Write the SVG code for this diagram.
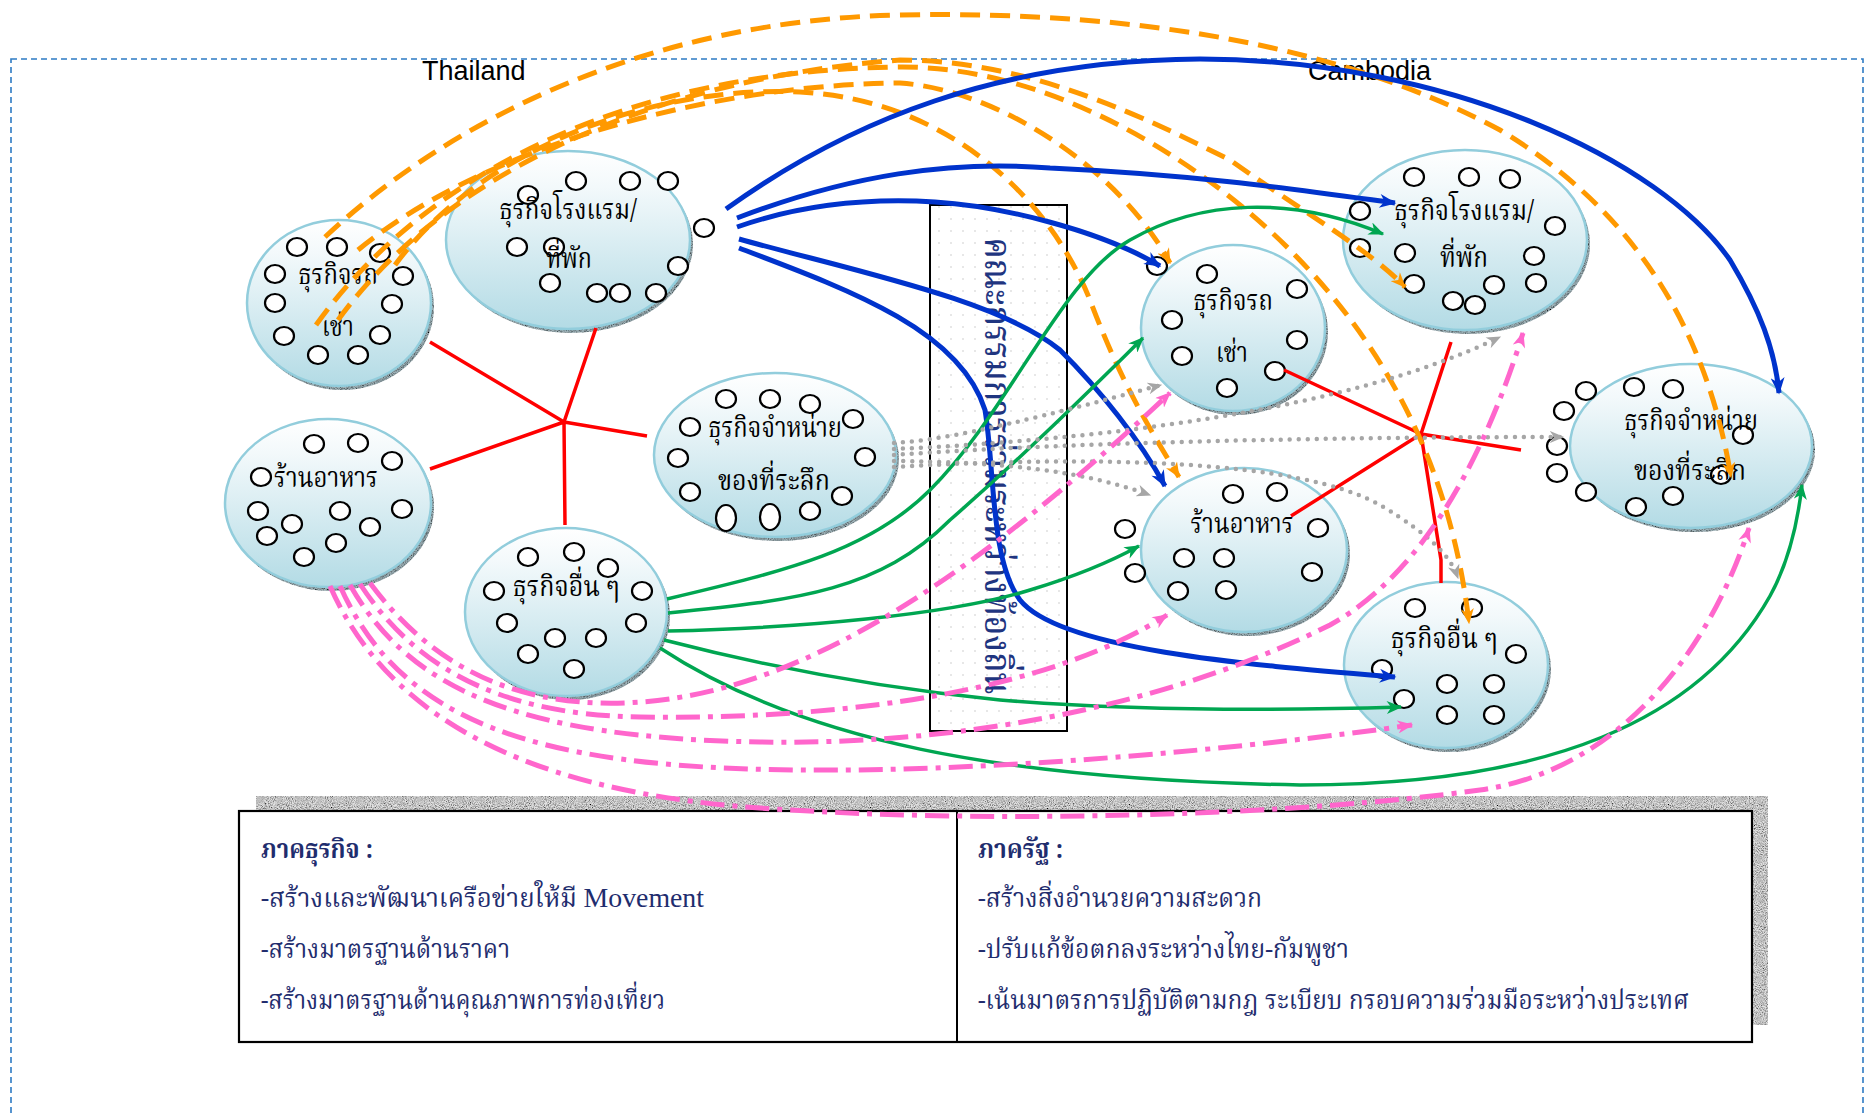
<svg xmlns="http://www.w3.org/2000/svg" width="1870" height="1115" viewBox="0 0 1870 1115">
<style>
  .th { font-family: "Noto Serif Thai", "Noto Sans Thai", "Noto Sans", "DejaVu Sans", sans-serif; }
  .nt { font-size: 28px; fill: #000; text-anchor: middle; }
  .bt { font-size: 26px; fill: #1f2d6e; }
  .hd { font-weight: bold; }
  .lat { font-family: "Liberation Sans", Arial, sans-serif; font-size: 27px; fill: #000; }
  .node { fill: url(#nodeFill); stroke: #92cddc; stroke-width: 2.5; }
  .shade { fill: #9fb3b9; filter: url(#grain); }
  .d { fill: #fff; stroke: #000; stroke-width: 2.2; }
  .red { stroke: #ff0000; stroke-width: 3.5; fill: none; }
  .blue { stroke: #0033cc; stroke-width: 5; fill: none; marker-end: url(#ah-blue); }
  .green { stroke: #00a651; stroke-width: 3.5; fill: none; marker-end: url(#ah-green); }
  .orange { stroke: #ff9900; stroke-width: 5; fill: none; stroke-dasharray: 20 10; marker-end: url(#ah-orange); }
  .gray { stroke: #a6a6a6; stroke-width: 4.5; fill: none; stroke-dasharray: 0 9; stroke-linecap: round; marker-end: url(#ah-gray); }
  .pink { stroke: #ff66cc; stroke-width: 5; fill: none; stroke-dasharray: 24 8 5 8; marker-end: url(#ah-pink); }
</style>
<defs>
  <linearGradient id="nodeFill" x1="0" y1="0" x2="0" y2="1">
    <stop offset="0" stop-color="#ffffff"/>
    <stop offset="0.2" stop-color="#f3f9fb"/>
    <stop offset="1" stop-color="#b3dbe5"/>
  </linearGradient>
  <!-- speckled texture for drop shadows -->
  <filter id="grain" x="-5%" y="-5%" width="110%" height="110%">
    <feTurbulence type="fractalNoise" baseFrequency="0.95" numOctaves="2" seed="4" result="noise"/>
    <feColorMatrix in="noise" type="saturate" values="0" result="gn"/>
    <feComponentTransfer in="gn" result="hc">
      <feFuncR type="linear" slope="2.4" intercept="-0.5"/>
      <feFuncG type="linear" slope="2.4" intercept="-0.5"/>
      <feFuncB type="linear" slope="2.4" intercept="-0.5"/>
      <feFuncA type="linear" slope="0" intercept="1"/>
    </feComponentTransfer>
    <feComposite in="hc" in2="SourceAlpha" operator="in" result="tex"/>
    <feBlend in="tex" in2="SourceGraphic" mode="multiply"/>
  </filter>
  <pattern id="faint" width="12" height="12" patternUnits="userSpaceOnUse">
    <circle cx="3" cy="3" r="0.9" fill="#dcdcdc"/>
  </pattern>
  <marker id="ah-blue" viewBox="0 0 12 10" refX="11" refY="5" markerWidth="18" markerHeight="14" markerUnits="userSpaceOnUse" orient="auto"><path d="M0,0 L12,5 L0,10 L3.5,5 z" fill="#0033cc"/></marker>
  <marker id="ah-green" viewBox="0 0 12 10" refX="11" refY="5" markerWidth="16" markerHeight="13" markerUnits="userSpaceOnUse" orient="auto"><path d="M0,0 L12,5 L0,10 L3.5,5 z" fill="#00a651"/></marker>
  <marker id="ah-orange" viewBox="0 0 12 10" refX="11" refY="5" markerWidth="16" markerHeight="13" markerUnits="userSpaceOnUse" orient="auto"><path d="M0,0 L12,5 L0,10 L3.5,5 z" fill="#ff9900"/></marker>
  <marker id="ah-gray" viewBox="0 0 12 10" refX="11" refY="5" markerWidth="15" markerHeight="12" markerUnits="userSpaceOnUse" orient="auto"><path d="M0,0 L12,5 L0,10 L3.5,5 z" fill="#a6a6a6"/></marker>
  <marker id="ah-pink" viewBox="0 0 12 10" refX="11" refY="5" markerWidth="16" markerHeight="13" markerUnits="userSpaceOnUse" orient="auto"><path d="M0,0 L12,5 L0,10 L3.5,5 z" fill="#ff66cc"/></marker>
</defs>

<rect width="1870" height="1115" fill="#ffffff"/>

<!-- dashed frame holding both countries -->
<rect x="11" y="59" width="1852" height="1100" fill="none" stroke="#2e7bc4" stroke-width="1.6" stroke-dasharray="6 4"/>
<text class="lat" x="422" y="80">Thailand</text>
<text class="lat" x="1308" y="80">Cambodia</text>

<!-- policy box -->
<g id="policy-box">
  <rect x="256" y="796" width="1512" height="229" fill="#e2e2e2" filter="url(#grain)"/>
  <rect x="239" y="811" width="1513" height="231" fill="#ffffff" stroke="#000" stroke-width="2.2"/>
  <line x1="957" y1="811" x2="957" y2="1042" stroke="#000" stroke-width="2"/>
  <text class="th bt hd" x="261" y="858" textLength="112" lengthAdjust="spacingAndGlyphs">ภาคธุรกิจ :</text>
  <text class="th bt" x="261" y="907" textLength="443" lengthAdjust="spacingAndGlyphs">-สร้างและพัฒนาเครือข่ายให้มี <tspan font-family="Liberation Serif, serif" font-size="28">Movement</tspan></text>
  <text class="th bt" x="261" y="958" textLength="249" lengthAdjust="spacingAndGlyphs">-สร้างมาตรฐานด้านราคา</text>
  <text class="th bt" x="261" y="1009" textLength="404" lengthAdjust="spacingAndGlyphs">-สร้างมาตรฐานด้านคุณภาพการท่องเที่ยว</text>
  <text class="th bt hd" x="978" y="858" textLength="85" lengthAdjust="spacingAndGlyphs">ภาครัฐ :</text>
  <text class="th bt" x="978" y="907" textLength="284" lengthAdjust="spacingAndGlyphs">-สร้างสิ่งอำนวยความสะดวก</text>
  <text class="th bt" x="978" y="958" textLength="371" lengthAdjust="spacingAndGlyphs">-ปรับแก้ข้อตกลงระหว่างไทย-กัมพูชา</text>
  <text class="th bt" x="978" y="1009" textLength="711" lengthAdjust="spacingAndGlyphs">-เน้นมาตรการปฏิบัติตามกฎ ระเบียบ กรอบความร่วมมือระหว่างประเทศ</text>
</g>

<!-- joint committee column -->
<g id="joint-committee">
  <rect x="930" y="205" width="137" height="526" fill="#ffffff" stroke="#000" stroke-width="2"/>
  <rect x="931" y="206" width="135" height="524" fill="url(#faint)"/>
  <text class="th" transform="translate(985,466) rotate(90)" text-anchor="middle" font-size="38" font-weight="500" fill="#1f3580" textLength="457" lengthAdjust="spacingAndGlyphs">คณะกรรมการร่วมระหว่างท้องถิ่น</text>
</g>

<!-- Thailand side -->
<g id="th-car-rental">
  <ellipse class="shade" cx="342" cy="307" rx="92" ry="83"/>
  <ellipse class="node" cx="339" cy="303" rx="92" ry="83"/>
  <ellipse class="d" cx="297" cy="247" rx="10" ry="9"/><ellipse class="d" cx="337" cy="247" rx="10" ry="9"/>
  <ellipse class="d" cx="380" cy="253" rx="10" ry="9"/><ellipse class="d" cx="275" cy="274" rx="10" ry="9"/>
  <ellipse class="d" cx="403" cy="276" rx="10" ry="9"/><ellipse class="d" cx="275" cy="303" rx="10" ry="9"/>
  <ellipse class="d" cx="392" cy="304" rx="10" ry="9"/><ellipse class="d" cx="284" cy="336" rx="10" ry="9"/>
  <ellipse class="d" cx="380" cy="335" rx="10" ry="9"/><ellipse class="d" cx="318" cy="355" rx="10" ry="9"/>
  <ellipse class="d" cx="358" cy="355" rx="10" ry="9"/>
  <text class="th nt" x="338" y="284" textLength="80" lengthAdjust="spacingAndGlyphs">ธุรกิจรถ</text>
  <text class="th nt" x="338" y="336" textLength="32" lengthAdjust="spacingAndGlyphs">เช่า</text>
</g>

<g id="th-hotel">
  <ellipse class="shade" cx="571" cy="244" rx="122" ry="89"/>
  <ellipse class="node" cx="568" cy="240" rx="122" ry="89"/>
  <ellipse class="d" cx="528" cy="195" rx="10" ry="9"/><ellipse class="d" cx="576" cy="181" rx="10" ry="9"/>
  <ellipse class="d" cx="630" cy="181" rx="10" ry="9"/><ellipse class="d" cx="668" cy="181" rx="10" ry="9"/>
  <ellipse class="d" cx="704" cy="228" rx="10" ry="9"/><ellipse class="d" cx="517" cy="247" rx="10" ry="9"/>
  <ellipse class="d" cx="554" cy="247" rx="10" ry="9"/><ellipse class="d" cx="678" cy="266" rx="10" ry="9"/>
  <ellipse class="d" cx="550" cy="283" rx="10" ry="9"/><ellipse class="d" cx="597" cy="293" rx="10" ry="9"/>
  <ellipse class="d" cx="620" cy="293" rx="10" ry="9"/><ellipse class="d" cx="656" cy="293" rx="10" ry="9"/>
  <text class="th nt" x="568" y="219" textLength="138" lengthAdjust="spacingAndGlyphs">ธุรกิจโรงแรม/</text>
  <text class="th nt" x="569" y="268" textLength="46" lengthAdjust="spacingAndGlyphs">ที่พัก</text>
</g>

<g id="th-restaurant">
  <ellipse class="shade" cx="331" cy="507" rx="103" ry="84"/>
  <ellipse class="node" cx="328" cy="503" rx="103" ry="84"/>
  <ellipse class="d" cx="314" cy="444" rx="10" ry="9"/><ellipse class="d" cx="358" cy="443" rx="10" ry="9"/>
  <ellipse class="d" cx="392" cy="461" rx="10" ry="9"/><ellipse class="d" cx="261" cy="477" rx="10" ry="9"/>
  <ellipse class="d" cx="258" cy="511" rx="10" ry="9"/><ellipse class="d" cx="292" cy="524" rx="10" ry="9"/>
  <ellipse class="d" cx="340" cy="511" rx="10" ry="9"/><ellipse class="d" cx="402" cy="509" rx="10" ry="9"/>
  <ellipse class="d" cx="370" cy="527" rx="10" ry="9"/><ellipse class="d" cx="267" cy="536" rx="10" ry="9"/>
  <ellipse class="d" cx="336" cy="543" rx="10" ry="9"/><ellipse class="d" cx="304" cy="557" rx="10" ry="9"/>
  <text class="th nt" x="326" y="487" textLength="104" lengthAdjust="spacingAndGlyphs">ร้านอาหาร</text>
</g>

<g id="th-souvenir">
  <ellipse class="shade" cx="778" cy="459" rx="121" ry="82"/>
  <ellipse class="node" cx="775" cy="455" rx="121" ry="82"/>
  <ellipse class="d" cx="726" cy="399" rx="10" ry="9"/><ellipse class="d" cx="770" cy="399" rx="10" ry="9"/>
  <ellipse class="d" cx="810" cy="404" rx="10" ry="9"/><ellipse class="d" cx="853" cy="419" rx="10" ry="9"/>
  <ellipse class="d" cx="690" cy="427" rx="10" ry="9"/><ellipse class="d" cx="678" cy="458" rx="10" ry="9"/>
  <ellipse class="d" cx="865" cy="457" rx="10" ry="9"/><ellipse class="d" cx="690" cy="492" rx="10" ry="9"/>
  <ellipse class="d" cx="842" cy="496" rx="10" ry="9"/><ellipse class="d" cx="810" cy="511" rx="10" ry="9"/>
  <ellipse class="d" cx="726" cy="518" rx="10" ry="13"/><ellipse class="d" cx="770" cy="517" rx="10" ry="13"/>
  <text class="th nt" x="775" y="437" textLength="134" lengthAdjust="spacingAndGlyphs">ธุรกิจจำหน่าย</text>
  <text class="th nt" x="774" y="490" textLength="112" lengthAdjust="spacingAndGlyphs">ของที่ระลึก</text>
</g>

<g id="th-other">
  <ellipse class="shade" cx="569" cy="616" rx="101" ry="84"/>
  <ellipse class="node" cx="566" cy="612" rx="101" ry="84"/>
  <ellipse class="d" cx="528" cy="557" rx="10" ry="9"/><ellipse class="d" cx="574" cy="552" rx="10" ry="9"/>
  <ellipse class="d" cx="608" cy="568" rx="10" ry="9"/><ellipse class="d" cx="494" cy="591" rx="10" ry="9"/>
  <ellipse class="d" cx="642" cy="591" rx="10" ry="9"/><ellipse class="d" cx="507" cy="623" rx="10" ry="9"/>
  <ellipse class="d" cx="555" cy="638" rx="10" ry="9"/><ellipse class="d" cx="596" cy="638" rx="10" ry="9"/>
  <ellipse class="d" cx="636" cy="623" rx="10" ry="9"/><ellipse class="d" cx="528" cy="654" rx="10" ry="9"/>
  <ellipse class="d" cx="574" cy="669" rx="10" ry="9"/>
  <text class="th nt" x="566" y="596" textLength="107" lengthAdjust="spacingAndGlyphs">ธุรกิจอื่น ๆ</text>
</g>

<!-- Cambodia side -->
<g id="kh-car-rental">
  <ellipse class="shade" cx="1236" cy="332" rx="92" ry="83"/>
  <ellipse class="node" cx="1233" cy="328" rx="92" ry="83"/>
  <ellipse class="d" cx="1157" cy="266" rx="10" ry="9"/><ellipse class="d" cx="1207" cy="274" rx="10" ry="9"/>
  <ellipse class="d" cx="1297" cy="289" rx="10" ry="9"/><ellipse class="d" cx="1172" cy="320" rx="10" ry="9"/>
  <ellipse class="d" cx="1297" cy="340" rx="10" ry="9"/><ellipse class="d" cx="1182" cy="356" rx="10" ry="9"/>
  <ellipse class="d" cx="1275" cy="371" rx="10" ry="9"/><ellipse class="d" cx="1227" cy="388" rx="10" ry="9"/>
  <text class="th nt" x="1233" y="310" textLength="80" lengthAdjust="spacingAndGlyphs">ธุรกิจรถ</text>
  <text class="th nt" x="1232" y="362" textLength="32" lengthAdjust="spacingAndGlyphs">เช่า</text>
</g>

<g id="kh-hotel">
  <ellipse class="shade" cx="1468" cy="244" rx="122" ry="90"/>
  <ellipse class="node" cx="1465" cy="240" rx="122" ry="90"/>
  <ellipse class="d" cx="1414" cy="177" rx="10" ry="9"/><ellipse class="d" cx="1469" cy="177" rx="10" ry="9"/>
  <ellipse class="d" cx="1510" cy="179" rx="10" ry="9"/><ellipse class="d" cx="1360" cy="211" rx="10" ry="9"/>
  <ellipse class="d" cx="1555" cy="226" rx="10" ry="9"/><ellipse class="d" cx="1360" cy="248" rx="10" ry="9"/>
  <ellipse class="d" cx="1405" cy="253" rx="10" ry="9"/><ellipse class="d" cx="1534" cy="256" rx="10" ry="9"/>
  <ellipse class="d" cx="1414" cy="284" rx="10" ry="9"/><ellipse class="d" cx="1494" cy="285" rx="10" ry="9"/>
  <ellipse class="d" cx="1536" cy="283" rx="10" ry="9"/><ellipse class="d" cx="1453" cy="301" rx="10" ry="9"/>
  <ellipse class="d" cx="1475" cy="305" rx="10" ry="9"/>
  <text class="th nt" x="1464" y="220" textLength="140" lengthAdjust="spacingAndGlyphs">ธุรกิจโรงแรม/</text>
  <text class="th nt" x="1464" y="267" textLength="48" lengthAdjust="spacingAndGlyphs">ที่พัก</text>
</g>

<g id="kh-restaurant">
  <ellipse class="shade" cx="1247" cy="554" rx="103" ry="82"/>
  <ellipse class="node" cx="1244" cy="550" rx="103" ry="82"/>
  <ellipse class="d" cx="1233" cy="494" rx="10" ry="9"/><ellipse class="d" cx="1277" cy="492" rx="10" ry="9"/>
  <ellipse class="d" cx="1125" cy="529" rx="10" ry="9"/><ellipse class="d" cx="1318" cy="528" rx="10" ry="9"/>
  <ellipse class="d" cx="1184" cy="558" rx="10" ry="9"/><ellipse class="d" cx="1224" cy="558" rx="10" ry="9"/>
  <ellipse class="d" cx="1135" cy="573" rx="10" ry="9"/><ellipse class="d" cx="1312" cy="572" rx="10" ry="9"/>
  <ellipse class="d" cx="1178" cy="591" rx="10" ry="9"/><ellipse class="d" cx="1226" cy="590" rx="10" ry="9"/>
  <text class="th nt" x="1242" y="533" textLength="103" lengthAdjust="spacingAndGlyphs">ร้านอาหาร</text>
</g>

<g id="kh-souvenir">
  <ellipse class="shade" cx="1694" cy="450" rx="121" ry="82"/>
  <ellipse class="node" cx="1691" cy="446" rx="121" ry="82"/>
  <ellipse class="d" cx="1586" cy="391" rx="10" ry="9"/><ellipse class="d" cx="1634" cy="387" rx="10" ry="9"/>
  <ellipse class="d" cx="1673" cy="389" rx="10" ry="9"/><ellipse class="d" cx="1564" cy="411" rx="10" ry="9"/>
  <ellipse class="d" cx="1557" cy="446" rx="10" ry="9"/><ellipse class="d" cx="1743" cy="435" rx="10" ry="9"/>
  <ellipse class="d" cx="1557" cy="473" rx="10" ry="9"/><ellipse class="d" cx="1721" cy="475" rx="10" ry="9"/>
  <ellipse class="d" cx="1586" cy="492" rx="10" ry="9"/><ellipse class="d" cx="1636" cy="507" rx="10" ry="9"/>
  <ellipse class="d" cx="1673" cy="496" rx="10" ry="9"/>
  <text class="th nt" x="1691" y="430" textLength="134" lengthAdjust="spacingAndGlyphs">ธุรกิจจำหน่าย</text>
  <text class="th nt" x="1690" y="480" textLength="112" lengthAdjust="spacingAndGlyphs">ของที่ระลึก</text>
</g>

<g id="kh-other">
  <ellipse class="shade" cx="1449" cy="669" rx="102" ry="83"/>
  <ellipse class="node" cx="1446" cy="665" rx="102" ry="83"/>
  <ellipse class="d" cx="1415" cy="608" rx="10" ry="9"/><ellipse class="d" cx="1472" cy="608" rx="10" ry="9"/>
  <ellipse class="d" cx="1516" cy="654" rx="10" ry="9"/><ellipse class="d" cx="1382" cy="669" rx="10" ry="9"/>
  <ellipse class="d" cx="1447" cy="684" rx="10" ry="9"/><ellipse class="d" cx="1494" cy="684" rx="10" ry="9"/>
  <ellipse class="d" cx="1404" cy="699" rx="10" ry="9"/><ellipse class="d" cx="1447" cy="715" rx="10" ry="9"/>
  <ellipse class="d" cx="1494" cy="715" rx="10" ry="9"/>
  <text class="th nt" x="1444" y="648" textLength="107" lengthAdjust="spacingAndGlyphs">ธุรกิจอื่น ๆ</text>
</g>

<!-- links -->
<g id="connectors">
  <!-- domestic clusters -->
  <path class="red" d="M564,422 L430,342 M564,422 L596,328 M564,422 L647,436 M564,422 L430,469 M564,422 L565,525"/>
  <path class="red" d="M1421,434 L1284,370 M1421,434 L1451,342 M1421,434 L1521,450 M1421,434 L1291,516 M1421,434 L1441,560 L1441,583"/>

  <!-- car rental to Cambodia -->
  <path class="orange" d="M325,237 C450,120 650,20 900,15 C1150,10 1350,50 1500,130 C1650,220 1710,350 1731,477"/>
  <path class="orange" d="M338,320 C440,180 640,80 900,60 C1030,60 1150,120 1230,160 C1300,210 1370,250 1405,287"/>
  <path class="orange" d="M316,325 C420,180 620,70 900,67 C1050,66 1200,160 1290,250 C1380,340 1450,460 1469,623"/>
  <path class="orange" d="M358,250 C480,150 700,85 900,83 C1000,90 1120,170 1170,263"/>
  <path class="orange" d="M395,265 C480,150 650,85 800,92 C950,100 1050,200 1090,300 C1120,380 1150,430 1179,477"/>

  <!-- hotels to Cambodia -->
  <path class="blue" d="M726,209 C850,120 1000,60 1200,59 C1450,60 1660,160 1730,260 C1760,310 1775,350 1779,393"/>
  <path class="blue" d="M737,218 C850,175 950,160 1050,168 C1200,175 1300,190 1395,203"/>
  <path class="blue" d="M737,227 C800,205 870,198 935,202 C1000,206 1100,230 1160,266"/>
  <path class="blue" d="M739,239 C850,270 1000,300 1060,350 C1100,390 1140,440 1165,486"/>
  <path class="blue" d="M739,248 C850,290 960,330 985,410 C995,470 990,560 1020,600 C1060,650 1250,665 1395,677"/>

  <!-- other businesses to Cambodia -->
  <path class="green" d="M667,599 C790,570 870,550 930,490 C1010,410 1060,280 1130,240 C1200,200 1290,195 1383,234"/>
  <path class="green" d="M668,613 C800,600 880,590 950,520 C1030,450 1090,390 1143,338"/>
  <path class="green" d="M668,631 C800,628 950,615 1030,590 C1080,575 1110,562 1139,546"/>
  <path class="green" d="M664,640 C780,670 900,690 1000,700 C1150,712 1300,710 1401,707"/>
  <path class="green" d="M660,648 C800,740 1000,780 1300,785 C1550,785 1700,720 1770,596 C1790,560 1798,520 1802,485"/>

  <!-- souvenir shops to Cambodia -->
  <path class="gray" d="M894,443 C950,440 1050,415 1161,385"/>
  <path class="gray" d="M894,449 C1100,440 1350,410 1500,337"/>
  <path class="gray" d="M894,455 C1100,440 1400,437 1563,437"/>
  <path class="gray" d="M894,461 C1000,462 1080,470 1150,495"/>
  <path class="gray" d="M894,467 C1100,455 1300,460 1380,505 C1430,535 1450,555 1458,578"/>

  <!-- restaurants to Cambodia -->
  <path class="pink" d="M370,583 C420,650 490,700 600,703 C780,708 960,590 1170,393"/>
  <path class="pink" d="M360,584 C410,660 490,715 640,717 C850,720 1050,690 1167,615"/>
  <path class="pink" d="M350,585 C410,690 520,738 760,742 C1000,746 1200,690 1330,625 C1430,570 1490,440 1523,333"/>
  <path class="pink" d="M340,586 C400,720 530,768 800,770 C1000,772 1250,748 1412,725"/>
  <path class="pink" d="M330,586 C380,700 500,790 760,808 C1000,825 1300,815 1480,790 C1620,770 1710,650 1749,528"/>
</g>
</svg>
